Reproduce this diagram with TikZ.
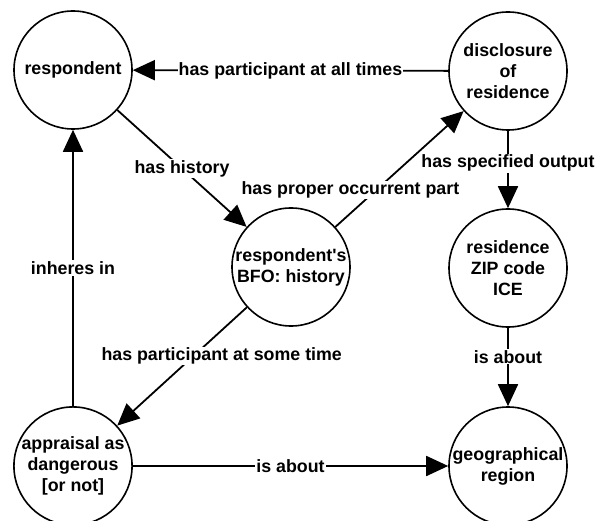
\documentclass[tikz,border=0pt]{standalone}
\usepackage{fontspec}
\setmainfont{Liberation Sans}
\usetikzlibrary{arrows.meta}

\begin{document}
\begin{tikzpicture}[x=1pt,y=-1pt]
   \tikzstyle{concept}=[draw, circle, line width=1.6pt, minimum size=118pt, inner sep=0pt, align=center, font=\bfseries\fontsize{17.8}{21}\selectfont]
   \tikzstyle{rel}=[fill=white, inner sep=1pt, font=\bfseries\fontsize{17.8}{21}\selectfont]
   \tikzstyle{link}=[line width=1.8pt, -{Triangle[length=22pt,width=20pt]}]
   \useasboundingbox (0,0) rectangle (607,521);

\node[concept] (resp) at (73,70) {respondent};
\node[concept] (discl) at (508,71) {disclosure\\of\\residence};
\node[concept] (hist) at (291,267) {respondent\textquotesingle s\\BFO: history};
\node[concept] (zip) at (508,268) {residence\\ZIP code\\ICE};
\node[concept] (appr) at (73,466) {appraisal as\\dangerous\\{[or not]}};
\node[concept] (geo) at (508,466) {geographical\\region};

\draw[link] (discl) -- node[rel] {has participant at all times} (resp);
\draw[link] (resp) -- node[rel] {has history} (hist);
\draw[link] (hist) -- node[rel, pos=0.32, xshift=-26pt] {has proper occurrent part} (discl);
\draw[link] (discl) -- node[rel, pos=0.42] {has specified output} (zip);
\draw[link] (zip) -- node[rel, pos=0.37] {is about} (geo);
\draw[link] (hist) -- node[rel, pos=0.41, xshift=28pt] {has participant at some time} (appr);
\draw[link] (appr) -- node[rel] {inheres in} (resp);
\draw[link] (appr) -- node[rel] {is about} (geo);

\end{tikzpicture}
\end{document}
